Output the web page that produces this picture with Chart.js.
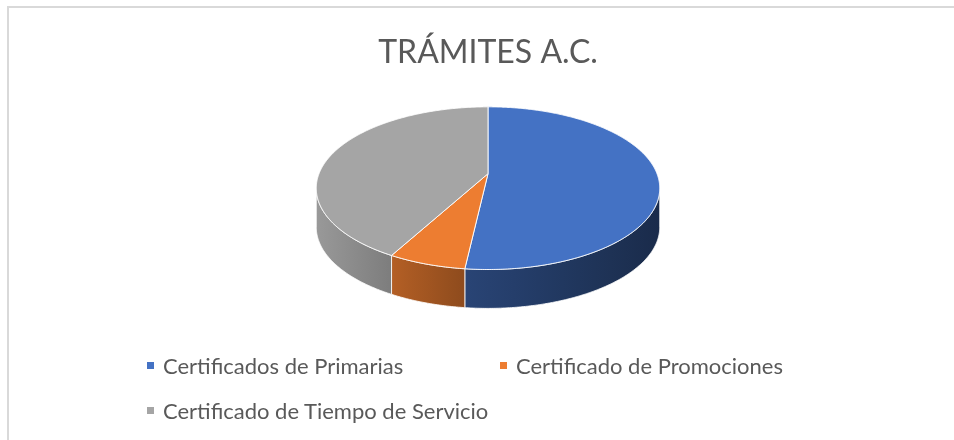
<!DOCTYPE html>
<html>
<head>
<meta charset="utf-8">
<script src="https://cdn.jsdelivr.net/npm/chart.js@4.4.1/dist/chart.umd.min.js"></script>
<style>
  body { margin: 0; background: #fff; }
  #wrap { position: relative; width: 954px; height: 440px; overflow: hidden; }
  #frame { position: absolute; left: 7px; top: 6px; right: -10px; bottom: -10px;
           border-top: 2px solid #d9d9d9; border-left: 2px solid #d9d9d9; }
  #legend { position: absolute; left: 147px; top: 352px; display: grid;
            grid-template-columns: 353px auto; row-gap: 19px;
            font-family: Lato, sans-serif; font-size: 22px; color: #595959; }
  .item { display: flex; align-items: center; height: 26px; white-space: nowrap; }
  .box { width: 7px; height: 7px; margin-right: 9px; }
</style>
</head>
<body>
<div id="wrap">
  <div id="frame"></div>
  <canvas id="chart" width="954" height="440"></canvas>
  <div id="legend"></div>
</div>
<script>
const labels = ['Certificados de Primarias', 'Certificado de Promociones', 'Certificado de Tiempo de Servicio'];
const values = [51.8, 6.2, 42];
const colors = ['#4472C4', '#ED7D31', '#A5A5A5'];

// 3d look
const tiltY = 0.466;
const persp = -0.178;
const depthRatio = 0.23;

function shade(hex, f) {
  const n = parseInt(hex.slice(1), 16);
  const r = Math.round(((n >> 16) & 255) * f), g = Math.round(((n >> 8) & 255) * f), b = Math.round((n & 255) * f);
  return `rgb(${r},${g},${b})`;
}
// light on the left, dark on the right
function wallFactor(t) {
  return t < 0.43 ? 0.92 - t * 0.75 : 0.6 - (t - 0.43) * 0.38;
}

const pie3d = {
  id: 'pie3d',
  beforeDatasetsDraw(chart) {
    const arcs = chart.getDatasetMeta(0).data;
    if (!arcs.length) return false;
    const ctx = chart.ctx;
    const cx = arcs[0].x, cy = arcs[0].y, R = arcs[0].outerRadius;
    const b = R * tiltY, D = R * depthRatio;
    const proj = (a, z) => {
      const d = 1 + persp * Math.sin(a);
      return [cx + R * Math.cos(a) / d, cy + b * Math.sin(a) / d + z];
    };
    const step = Math.PI / 360;
    const vis0 = Math.asin(-persp), vis1 = Math.PI - vis0;

    ctx.save();
    ctx.lineJoin = 'round';
    // outer walls
    arcs.forEach((arc, i) => {
      for (let n = -1; n <= 2; n++) {
        const lo = Math.max(arc.startAngle, vis0 + 2 * Math.PI * n);
        const hi = Math.min(arc.endAngle, vis1 + 2 * Math.PI * n);
        if (hi <= lo) continue;
        ctx.beginPath();
        let p = proj(lo, 0);
        ctx.moveTo(p[0], p[1]);
        for (let a = lo; a < hi; a += step) { p = proj(a, 0); ctx.lineTo(p[0], p[1]); }
        p = proj(hi, 0); ctx.lineTo(p[0], p[1]);
        p = proj(hi, D); ctx.lineTo(p[0], p[1]);
        for (let a = hi; a > lo; a -= step) { p = proj(a, D); ctx.lineTo(p[0], p[1]); }
        p = proj(lo, D); ctx.lineTo(p[0], p[1]);
        ctx.closePath();
        const xl = proj(hi, 0)[0], xr = proj(lo, 0)[0];
        const grad = ctx.createLinearGradient(xl, 0, xr, 0);
        for (let s = 0; s <= 4; s++) {
          const x = xl + (xr - xl) * s / 4;
          grad.addColorStop(s / 4, shade(colors[i], wallFactor((x - (cx - R)) / (2 * R))));
        }
        ctx.fillStyle = grad;
        ctx.fill();
        ctx.strokeStyle = 'rgba(255,255,255,0.8)';
        ctx.lineWidth = 1;
        ctx.stroke();
      }
    });
    // top faces
    arcs.forEach((arc, i) => {
      ctx.beginPath();
      ctx.moveTo(cx, cy);
      let p;
      for (let a = arc.startAngle; a < arc.endAngle; a += step) { p = proj(a, 0); ctx.lineTo(p[0], p[1]); }
      p = proj(arc.endAngle, 0); ctx.lineTo(p[0], p[1]);
      ctx.closePath();
      ctx.fillStyle = colors[i];
      ctx.fill();
      ctx.strokeStyle = 'rgba(255,255,255,0.9)';
      ctx.lineWidth = 1;
      ctx.stroke();
    });
    ctx.restore();
    return false;
  }
};

const chart = new Chart(document.getElementById('chart'), {
  type: 'pie',
  data: {
    labels: labels,
    datasets: [{ data: values, backgroundColor: colors, radius: 169, borderWidth: 0 }]
  },
  options: {
    responsive: false,
    animation: false,
    devicePixelRatio: 1,
    layout: { padding: { left: 22, right: 0, top: 3, bottom: 173 } },
    plugins: {
      legend: { display: false },
      tooltip: { enabled: false },
      title: {
        display: true,
        text: 'TRÁMITES A.C.',
        color: '#595959',
        font: { family: 'Lato', size: 32, weight: 'normal', lineHeight: 1.2 },
        padding: { top: 30, bottom: 9 }
      }
    }
  },
  plugins: [pie3d]
});

// html legend from the chart's own labels
const legendEl = document.getElementById('legend');
chart.options.plugins.legend.labels.generateLabels(chart).forEach(item => {
  const div = document.createElement('div');
  div.className = 'item';
  div.innerHTML = `<span class="box" style="background:${item.fillStyle}"></span><span>${item.text}</span>`;
  legendEl.appendChild(div);
});
</script>
</body>
</html>
